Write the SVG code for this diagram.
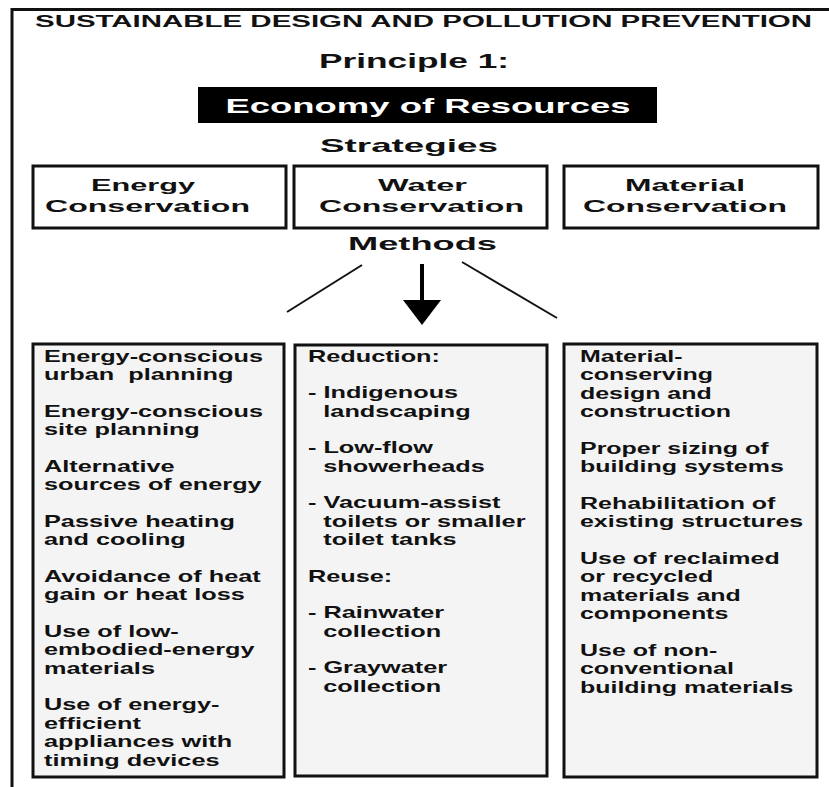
<svg xmlns="http://www.w3.org/2000/svg" width="829" height="787" viewBox="0 0 829 787">
<style>
.h{font-family:"Liberation Sans",Arial,sans-serif;font-weight:bold;fill:#111;text-anchor:middle}
.t{font-family:"Liberation Sans",Arial,sans-serif;font-weight:bold;font-size:16px;fill:#111}
.box{fill:#fff;stroke:#111;stroke-width:3}
.mbox{fill:#f4f4f4;stroke:#111;stroke-width:3}
.ln{stroke:#111;stroke-width:2;fill:none}
</style>
<rect width="829" height="787" fill="#fff"/>
<g id="frame">
<path d="M12 787V9.5H829" fill="none" stroke="#111" stroke-width="3"/>
</g>
<g id="title">
<text class="h" x="423.5" y="27" font-size="16" textLength="777" lengthAdjust="spacingAndGlyphs">SUSTAINABLE DESIGN AND POLLUTION PREVENTION</text>
</g>
<g id="principle">
<text class="h" x="414" y="68" font-size="20" textLength="190" lengthAdjust="spacingAndGlyphs">Principle 1:</text>
</g>
<g id="economy">
<rect x="198" y="87" width="459" height="36" fill="#000"/>
<text class="h" x="428" y="113" font-size="21" fill="#fff" style="fill:#fff" textLength="405" lengthAdjust="spacingAndGlyphs">Economy of Resources</text>
</g>
<g id="strategies">
<text class="h" x="409" y="152" font-size="19" textLength="178" lengthAdjust="spacingAndGlyphs">Strategies</text>
</g>
<g id="energy">
<rect class="box" x="33" y="166" width="253" height="62"/>
<text class="h" x="143" y="191" font-size="17" textLength="104" lengthAdjust="spacingAndGlyphs">Energy</text>
<text class="h" x="147.5" y="212" font-size="17" textLength="205" lengthAdjust="spacingAndGlyphs">Conservation</text>
</g>
<g id="water">
<rect class="box" x="294" y="166" width="253" height="62"/>
<text class="h" x="422.5" y="191" font-size="17" textLength="89" lengthAdjust="spacingAndGlyphs">Water</text>
<text class="h" x="421.5" y="212" font-size="17" textLength="205" lengthAdjust="spacingAndGlyphs">Conservation</text>
</g>
<g id="material">
<rect class="box" x="564" y="166" width="254" height="62"/>
<text class="h" x="685" y="191" font-size="17" textLength="120" lengthAdjust="spacingAndGlyphs">Material</text>
<text class="h" x="685" y="212" font-size="17" textLength="204" lengthAdjust="spacingAndGlyphs">Conservation</text>
</g>
<g id="methods">
<text class="h" x="422.5" y="250" font-size="19" textLength="149" lengthAdjust="spacingAndGlyphs">Methods</text>
</g>
<g id="connectors">
<line class="ln" x1="362" y1="265" x2="287" y2="312"/>
<line class="ln" x1="462" y1="262" x2="557" y2="318"/>
<line x1="422" y1="264" x2="422" y2="302" stroke="#000" stroke-width="4"/>
<polygon points="403,300 441,300 422,325" fill="#000"/>
</g>
<g id="energy-methods">
<rect class="mbox" x="33" y="344" width="251" height="433"/>
<g transform="translate(44 0) scale(1.58 1)">
<text class="t" x="0" y="362">Energy-conscious</text>
<text class="t" x="0" y="380.5" xml:space="preserve">urban  planning</text>
<text class="t" x="0" y="417">Energy-conscious</text>
<text class="t" x="0" y="435.5">site planning</text>
<text class="t" x="0" y="472">Alternative</text>
<text class="t" x="0" y="490.5">sources of energy</text>
<text class="t" x="0" y="527">Passive heating</text>
<text class="t" x="0" y="545.5">and cooling</text>
<text class="t" x="0" y="582">Avoidance of heat</text>
<text class="t" x="0" y="600.5">gain or heat loss</text>
<text class="t" x="0" y="637">Use of low-</text>
<text class="t" x="0" y="655.5">embodied-energy</text>
<text class="t" x="0" y="674">materials</text>
<text class="t" x="0" y="710.5">Use of energy-</text>
<text class="t" x="0" y="729">efficient</text>
<text class="t" x="0" y="747.5">appliances with</text>
<text class="t" x="0" y="766">timing devices</text>
</g>
</g>
<g id="water-methods">
<rect class="mbox" x="295" y="345" width="252" height="431"/>
<g transform="translate(308 0) scale(1.58 1)">
<text class="t" x="0" y="362">Reduction:</text>
<text class="t" x="0" y="398.5">- Indigenous</text>
<text class="t" x="9.7" y="417">landscaping</text>
<text class="t" x="0" y="453.5">- Low-flow</text>
<text class="t" x="9.7" y="472">showerheads</text>
<text class="t" x="0" y="508.5">- Vacuum-assist</text>
<text class="t" x="9.7" y="527">toilets or smaller</text>
<text class="t" x="9.7" y="545.5">toilet tanks</text>
<text class="t" x="0" y="582">Reuse:</text>
<text class="t" x="0" y="618.5">- Rainwater</text>
<text class="t" x="9.7" y="637">collection</text>
<text class="t" x="0" y="673.5">- Graywater</text>
<text class="t" x="9.7" y="692">collection</text>
</g>
</g>
<g id="material-methods">
<rect class="mbox" x="564" y="344" width="253" height="433"/>
<g transform="translate(580 0) scale(1.56 1)">
<text class="t" x="0" y="362">Material-</text>
<text class="t" x="0" y="380.5">conserving</text>
<text class="t" x="0" y="399">design and</text>
<text class="t" x="0" y="417.5">construction</text>
<text class="t" x="0" y="454">Proper sizing of</text>
<text class="t" x="0" y="472.5">building systems</text>
<text class="t" x="0" y="509">Rehabilitation of</text>
<text class="t" x="0" y="527.5">existing structures</text>
<text class="t" x="0" y="564">Use of reclaimed</text>
<text class="t" x="0" y="582.5">or recycled</text>
<text class="t" x="0" y="601">materials and</text>
<text class="t" x="0" y="619.5">components</text>
<text class="t" x="0" y="656">Use of non-</text>
<text class="t" x="0" y="674.5">conventional</text>
<text class="t" x="0" y="693">building materials</text>
</g>
</g>
</svg>
